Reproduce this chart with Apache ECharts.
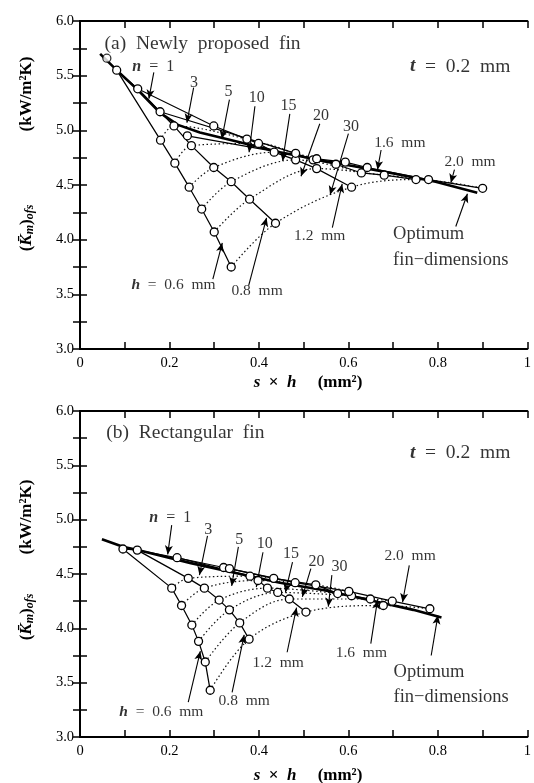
<!DOCTYPE html>
<html><head><meta charset="utf-8">
<script src="https://cdn.jsdelivr.net/npm/echarts/dist/echarts.min.js"></script>
<style>html,body{margin:0;padding:0;background:#fff}#c{width:534px;height:783px}</style>
</head><body><div id="c"></div>
<script>
// ---------- DATA ----------
const nValues = [1, 3, 5, 10, 15, 20, 30];
const hValues = ['0.6', '0.8', '1.2', '1.6', '2.0'];

// Panel (a) newly proposed fin : points for n = 1,3,5,10,15,20,30
const aX06 = [0.082, 0.180, 0.212, 0.244, 0.272, 0.300, 0.338];
const aY06 = [5.55, 4.91, 4.70, 4.48, 4.28, 4.07, 3.75];
const aX08 = [0.129, 0.210, 0.249, 0.299, 0.338, 0.379, 0.437];
const aY08 = [5.38, 5.04, 4.86, 4.66, 4.53, 4.37, 4.15];
const aX12 = [0.299, 0.373, 0.399, 0.434, 0.482, 0.529, 0.607];
const aY12 = [5.04, 4.92, 4.88, 4.80, 4.73, 4.65, 4.48];
const aX16 = [0.179, 0.482, 0.521, 0.572, 0.629, 0.680, 0.751];
const aY16 = [5.17, 4.79, 4.73, 4.69, 4.61, 4.59, 4.55];
const aX20 = [0.240, 0.529, 0.593, 0.642, null, 0.779, 0.900];
const aY20 = [4.95, 4.74, 4.71, 4.66, null, 4.55, 4.47];
const aExtraX = [0.060];
const aExtraY = [5.66];
const aOptX = [0.045, 0.082, 0.129, 0.179, 0.219, 0.268, 0.348, 0.447, 0.546, 0.616, 0.695, 0.795, 0.888];
const aOptY = [5.70, 5.55, 5.37, 5.16, 5.05, 4.98, 4.90, 4.80, 4.72, 4.67, 4.61, 4.53, 4.43];

// Panel (b) rectangular fin
const bX06 = [0.096, 0.205, 0.227, 0.250, 0.265, 0.280, 0.291];
const bY06 = [4.73, 4.37, 4.21, 4.03, 3.88, 3.69, 3.43];
const bX08 = [0.128, 0.242, 0.278, 0.311, 0.334, 0.357, 0.378];
const bY08 = [4.72, 4.46, 4.37, 4.26, 4.17, 4.05, 3.90];
const bX12 = [0.217, 0.380, 0.398, 0.419, 0.442, 0.468, 0.505];
const bY12 = [4.65, 4.48, 4.44, 4.37, 4.33, 4.27, 4.15];
const bX16 = [0.321, 0.433, 0.527, 0.576, 0.607, 0.649, 0.678];
const bY16 = [4.56, 4.46, 4.40, 4.32, 4.30, 4.27, 4.21];
const bX20 = [0.334, 0.481, 0.601, null, null, 0.698, 0.782];
const bY20 = [4.55, 4.42, 4.34, null, null, 4.25, 4.18];
const bOptX = [0.049, 0.096, 0.129, 0.248, 0.348, 0.447, 0.546, 0.646, 0.745, 0.808];
const bOptY = [4.82, 4.75, 4.72, 4.60, 4.51, 4.42, 4.35, 4.26, 4.17, 4.10];

// how many fin heights the solid n = 1 curve runs through in each panel
const aN1Span = 3;
const bN1Span = 5;

// ---------- ANNOTATIONS (text + arrows, in data coordinates) ----------
const aNotes = [
  {t: '(a)  Newly  proposed  fin', x: 0.056, y: 5.79, al: 'left', fs: 19.5},
  {t: '{i|t}  =  0.2  mm', x: 0.963, y: 5.58, al: 'right', fs: 19.5},
  {t: '{i|n}  =  1', x: 0.165, y: 5.58},
  {t: '3', x: 0.256, y: 5.43}, {t: '5', x: 0.333, y: 5.35}, {t: '10', x: 0.396, y: 5.29},
  {t: '15', x: 0.467, y: 5.22}, {t: '20', x: 0.540, y: 5.13}, {t: '30', x: 0.607, y: 5.03},
  {t: '1.6  mm', x: 0.716, y: 4.88, fs: 15.5}, {t: '2.0  mm', x: 0.873, y: 4.71, fs: 15.5},
  {t: '1.2  mm', x: 0.537, y: 4.03, fs: 15.5}, {t: '{i|h}  =  0.6  mm', x: 0.210, y: 3.58, fs: 15.5},
  {t: '0.8  mm', x: 0.397, y: 3.53, fs: 15.5},
  {t: 'Optimum', x: 0.701, y: 4.05, al: 'left', fs: 18.5},
  {t: 'fin\u2212dimensions', x: 0.701, y: 3.81, al: 'left', fs: 18.5}
];
const aArrows = [
  [0.165, 5.53, 0.154, 5.29], [0.254, 5.39, 0.239, 5.07], [0.334, 5.28, 0.317, 4.92],
  [0.391, 5.22, 0.378, 4.80], [0.469, 5.15, 0.453, 4.72], [0.536, 5.06, 0.494, 4.58],
  [0.600, 4.97, 0.559, 4.41], [0.673, 4.82, 0.665, 4.64], [0.837, 4.64, 0.829, 4.52],
  [0.564, 4.11, 0.586, 4.51], [0.297, 3.64, 0.318, 3.97], [0.377, 3.58, 0.417, 4.20],
  [0.840, 4.12, 0.866, 4.42]
];
const bNotes = [
  {t: '(b)  Rectangular  fin', x: 0.060, y: 5.79, al: 'left', fs: 19.5},
  {t: '{i|t}  =  0.2  mm', x: 0.963, y: 5.61, al: 'right', fs: 19.5},
  {t: '{i|n}  =  1', x: 0.203, y: 5.01},
  {t: '3', x: 0.288, y: 4.90}, {t: '5', x: 0.357, y: 4.81}, {t: '10', x: 0.414, y: 4.77},
  {t: '15', x: 0.473, y: 4.68}, {t: '20', x: 0.530, y: 4.61}, {t: '30', x: 0.581, y: 4.56},
  {t: '2.0  mm', x: 0.739, y: 4.66, fs: 15.5}, {t: '1.6  mm', x: 0.630, y: 3.77, fs: 15.5},
  {t: '1.2  mm', x: 0.444, y: 3.68, fs: 15.5}, {t: '{i|h}  =  0.6  mm', x: 0.183, y: 3.23, fs: 15.5},
  {t: '0.8  mm', x: 0.368, y: 3.33, fs: 15.5},
  {t: 'Optimum', x: 0.702, y: 3.59, al: 'left', fs: 18.5},
  {t: 'fin\u2212dimensions', x: 0.702, y: 3.36, al: 'left', fs: 18.5}
];
const bArrows = [
  [0.205, 4.95, 0.196, 4.68], [0.285, 4.85, 0.267, 4.49], [0.354, 4.75, 0.339, 4.39],
  [0.409, 4.70, 0.394, 4.38], [0.475, 4.61, 0.459, 4.33], [0.516, 4.55, 0.497, 4.29],
  [0.563, 4.49, 0.555, 4.20], [0.736, 4.58, 0.721, 4.24], [0.650, 3.86, 0.665, 4.26],
  [0.463, 3.78, 0.484, 4.19], [0.242, 3.32, 0.269, 3.79], [0.340, 3.41, 0.367, 3.94],
  [0.785, 3.75, 0.800, 4.12]
];

// ---------- BUILD ----------
const F = '"Liberation Serif", "Times New Roman", serif';
const chart = echarts.init(document.getElementById('c'));
const zip = (xs, ys) => xs.map((x, i) => (x == null ? null : [x, ys[i]])).filter(Boolean);

function panelSeries(g, hx, hy, optX, optY, extraX, extraY, n1Span, notes, arrows) {
  const ax = {xAxisIndex: 2 * g, yAxisIndex: 2 * g};
  const out = [];
  // constant-n curves: n = 1 solid, others dotted
  for (let k = 0; k < nValues.length; k++) {
    const span = k === 0 ? n1Span : hx.length;
    const pts = hx.slice(0, span).map((xs, j) => (xs[k] == null ? null : [xs[k], hy[j][k]])).filter(Boolean);
    out.push(Object.assign({type: 'line', name: 'n=' + nValues[k], data: pts, symbol: 'none',
      smooth: k === 0 ? false : 0.35,
      lineStyle: k === 0 ? {color: '#000', width: 1.1} : {color: '#111', width: 1.2, type: [1.5, 2.5]},
      z: 2, silent: true}, ax));
  }
  // optimum envelope + arrows
  out.push(Object.assign({type: 'line', name: 'optimum', data: zip(optX, optY), symbol: 'none',
    lineStyle: {color: '#000', width: 2.6}, z: 3, silent: true,
    markLine: {silent: true, symbol: ['none', 'arrow'], symbolSize: [6, 9], animation: false, precision: 4,
      lineStyle: {color: '#000', width: 1.1, type: 'solid'}, label: {show: false},
      data: arrows.map(a => [{coord: [a[0], a[1]]}, {coord: [a[2], a[3]]}])}}, ax));
  // constant-h lines with circles
  hx.forEach((xs, j) => {
    out.push(Object.assign({type: 'line', name: 'h=' + hValues[j], data: zip(xs, hy[j]),
      symbol: 'circle', symbolSize: 8, showAllSymbol: true,
      itemStyle: {color: '#fff', borderColor: '#000', borderWidth: 1.3},
      lineStyle: {color: '#000', width: 1.25}, z: 5, silent: true}, ax));
  });
  if (extraX) {
    out.push(Object.assign({type: 'scatter', data: zip(extraX, extraY), symbol: 'circle', symbolSize: 8,
      itemStyle: {color: '#fff', borderColor: '#000', borderWidth: 1.3}, z: 6, silent: true}, ax));
  }
  // text annotations
  out.push(Object.assign({type: 'scatter', symbolSize: 1, itemStyle: {color: 'rgba(0,0,0,0)'}, z: 10, silent: true,
    data: notes.map(nt => ({value: [nt.x, nt.y], label: {show: true, formatter: nt.t, position: [0, 0],
      align: nt.al || 'center', verticalAlign: 'middle', color: '#000', fontFamily: F, fontSize: nt.fs || 16,
      rich: {i: {fontStyle: 'italic', fontWeight: 'bold', fontFamily: F, fontSize: nt.fs || 16, color: '#000'}}}}))}, ax));
  return out;
}

const xFmt = v => { const k = Math.round(v * 10); if (k === 0) return '0'; if (k === 10) return '1'; return k % 2 === 0 ? (k / 10).toFixed(1) : ''; };
const yFmt = v => { const k = Math.round(v * 4); return k % 2 === 0 ? (k / 4).toFixed(1) : ''; };
const lineS = {color: '#000', width: 2};
const tickS = {inside: true, length: 7, lineStyle: {color: '#000', width: 1.5}};

const xAxes = [], yAxes = [];
[0, 1].forEach(g => {
  xAxes.push({gridIndex: g, type: 'value', min: 0, max: 1, interval: 0.1, position: 'bottom',
    axisLine: {lineStyle: lineS}, axisTick: tickS, splitLine: {show: false},
    axisLabel: {formatter: xFmt, color: '#000', fontFamily: F, fontSize: 14.5, margin: 7, showMaxLabel: true, showMinLabel: true}});
  xAxes.push({gridIndex: g, type: 'value', min: 0, max: 1, interval: 0.1, position: 'top',
    axisLine: {lineStyle: lineS}, axisTick: tickS, splitLine: {show: false}, axisLabel: {show: false}});
  yAxes.push({gridIndex: g, type: 'value', min: 3, max: 6, interval: 0.25, position: 'left',
    axisLine: {lineStyle: lineS}, axisTick: tickS, splitLine: {show: false},
    axisLabel: {formatter: yFmt, color: '#000', fontFamily: F, fontSize: 14.5, margin: 6}});
  yAxes.push({gridIndex: g, type: 'value', min: 3, max: 6, interval: 0.25, position: 'right',
    axisLine: {lineStyle: lineS}, axisTick: tickS, splitLine: {show: false}, axisLabel: {show: false}});
});

const series = [].concat(
  panelSeries(0, [aX06, aX08, aX12, aX16, aX20], [aY06, aY08, aY12, aY16, aY20], aOptX, aOptY, aExtraX, aExtraY, aN1Span, aNotes, aArrows),
  panelSeries(1, [bX06, bX08, bX12, bX16, bX20], [bY06, bY08, bY12, bY16, bY20], bOptX, bOptY, null, null, bN1Span, bNotes, bArrows)
);

const titleRich = {
  b: {fontFamily: F, fontWeight: 'bold', fontSize: 17, color: '#000'},
  k: {fontFamily: F, fontWeight: 'bold', fontStyle: 'italic', fontSize: 17, color: '#000'},
  s: {fontFamily: F, fontWeight: 'bold', fontStyle: 'italic', fontSize: 12, color: '#000', verticalAlign: 'bottom', padding: [6, 0, 0, 0]}
};
function yTitle(cxA, cyA, cyB) {
  return [
    {type: 'text', x: cxA, y: cyA, rotation: Math.PI / 2, style: {text: '{b|(kW/m\u00B2K)}', rich: titleRich, align: 'center', verticalAlign: 'middle'}},
    {type: 'text', x: cxA, y: cyB, rotation: Math.PI / 2, style: {text: '{b|(}{k|K\u0304}{s|m}{b|)}{s|ofs}', rich: titleRich, align: 'center', verticalAlign: 'middle'}}
  ];
}
function xTitle(cy) {
  return {type: 'text', x: 308, y: cy, style: {text: '{k|s}{b|  \u00D7  }{k|h}{b|     (mm\u00B2)}', rich: titleRich, align: 'center', verticalAlign: 'middle'}};
}

chart.setOption({
  animation: false,
  backgroundColor: '#fff',
  grid: [{left: 80, width: 456, top: 21, height: 328}, {left: 80, width: 456, top: 411, height: 326}],
  xAxis: xAxes,
  yAxis: yAxes,
  series: series,
  graphic: [].concat(yTitle(27, 94, 228), yTitle(27, 517, 617), [xTitle(383), xTitle(776)])
});
</script></body></html>
